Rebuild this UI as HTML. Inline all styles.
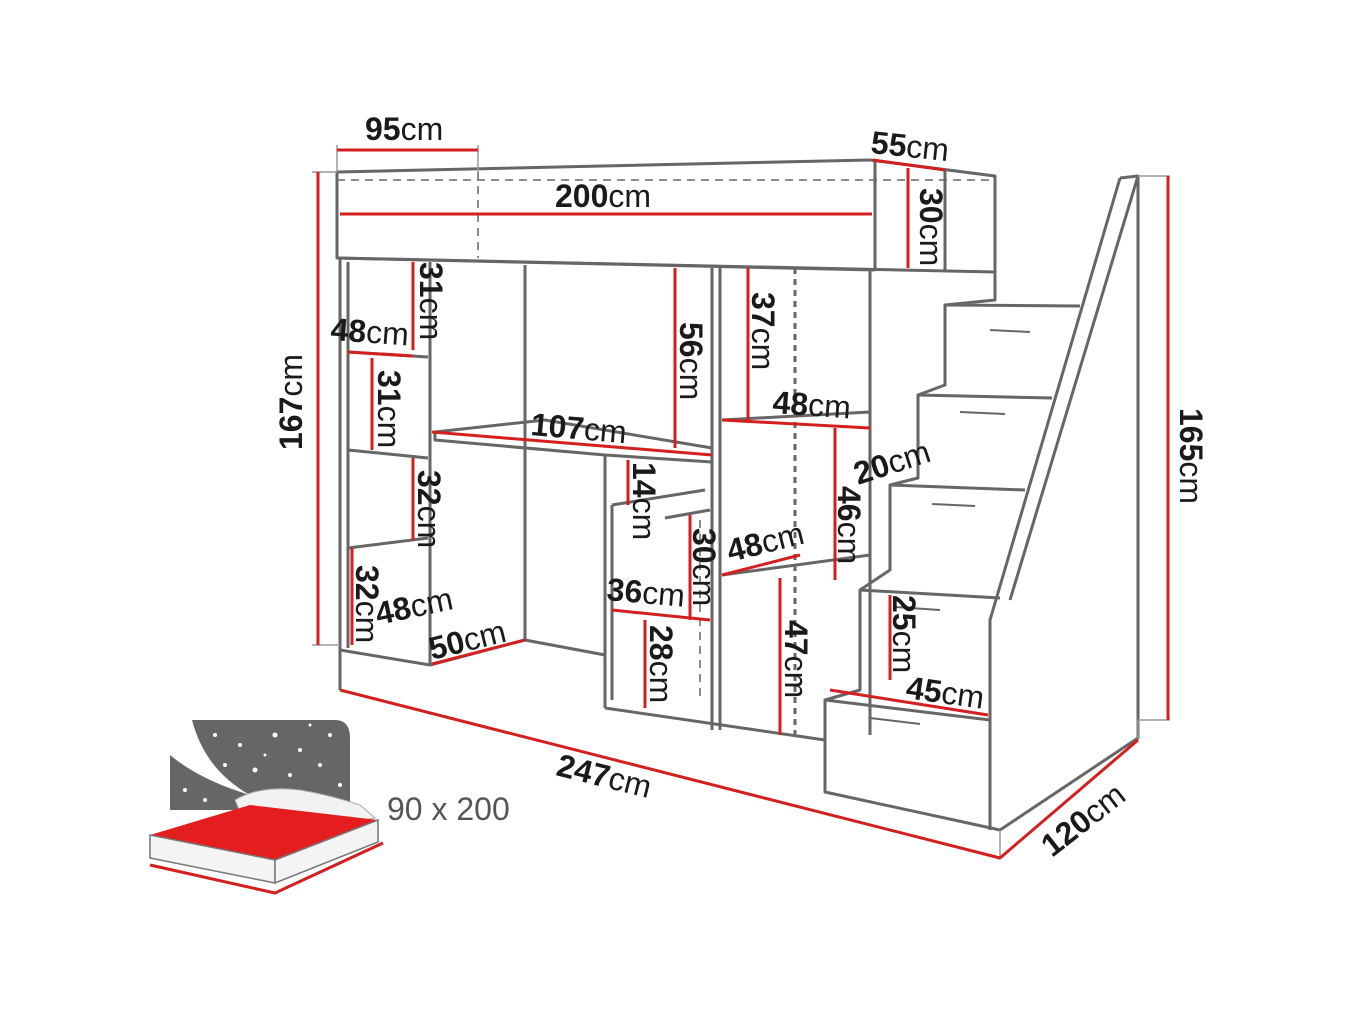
<!DOCTYPE html>
<html><head><meta charset="utf-8"><style>
html,body{margin:0;padding:0;background:#fff;}
svg{display:block;}
text{font-family:"Liberation Sans",sans-serif;font-size:32px;fill:#1a1a1a;}
.b{font-weight:bold;}
</style></head><body>
<svg width="1352" height="1014" viewBox="0 0 1352 1014" xmlns="http://www.w3.org/2000/svg">
<g fill="none" stroke="#666" stroke-width="3" stroke-linejoin="round">
<polygon points="337,172 870,160 995,176 995,272 337,258" fill="#fff"/>
<line x1="337" y1="258" x2="875" y2="270"/>
<line x1="875" y1="160" x2="875" y2="270"/>
<line x1="945" y1="170" x2="945" y2="272"/>
<polyline points="340,258 340,650 430,665 430,262"/>
<line x1="348" y1="262" x2="348" y2="648"/>
<line x1="348" y1="352" x2="428" y2="357"/>
<line x1="348" y1="450" x2="428" y2="458"/>
<line x1="348" y1="548" x2="428" y2="538"/>
<polygon points="435,432 545,420 712,448 712,462 605,455 435,440" fill="#fff"/>
<line x1="525" y1="265" x2="525" y2="640"/>
<polyline points="430,665 525,640 605,655"/>
<line x1="605" y1="455" x2="605" y2="708"/>
<line x1="605" y1="708" x2="825" y2="740"/>
<line x1="675" y1="268" x2="675" y2="448"/>
<line x1="612" y1="505" x2="705" y2="490"/>
<line x1="612" y1="505" x2="612" y2="700"/>
<line x1="665" y1="518" x2="710" y2="510"/>
<line x1="712" y1="268" x2="712" y2="730"/>
<line x1="720" y1="268" x2="720" y2="730"/>
<line x1="722" y1="420" x2="870" y2="412"/>
<line x1="722" y1="575" x2="870" y2="555"/>
<line x1="795" y1="268" x2="795" y2="735" stroke-dasharray="6,5"/>
<line x1="870" y1="270" x2="870" y2="735"/>
<polyline points="1120,178 1138,176 1138,738 1000,830 825,792 825,700 860,690 860,590 890,570 890,485 918,478 918,395 945,385 945,305 995,300 995,272"/>
<polyline points="1120,178 990,620 990,720"/>
<line x1="1138" y1="176" x2="1010" y2="600"/>
<polyline points="945,305 1080,306"/>
<polyline points="918,395 1052,398"/>
<polyline points="890,485 1025,490"/>
<polyline points="860,590 1000,598"/>
<polyline points="825,700 990,720"/>
<line x1="990" y1="720" x2="990" y2="830"/>
<line x1="990" y1="330" x2="1030" y2="332" stroke-width="2"/>
<line x1="960" y1="412" x2="1005" y2="414" stroke-width="2"/>
<line x1="932" y1="504" x2="975" y2="506" stroke-width="2"/>
<line x1="895" y1="607" x2="940" y2="610" stroke-width="2"/>
<line x1="870" y1="718" x2="920" y2="724" stroke-width="2"/>
<line x1="340" y1="650" x2="340" y2="690"/>
</g>
<g fill="none" stroke="#666" stroke-width="1.5" stroke-dasharray="8,6">
<line x1="478" y1="172" x2="478" y2="258"/>
<line x1="337" y1="180" x2="995" y2="180"/>
<line x1="700" y1="520" x2="700" y2="700"/>
</g>
<g stroke="#999" stroke-width="1.5">
<line x1="337" y1="145" x2="337" y2="172"/><line x1="478" y1="145" x2="478" y2="172"/>
<line x1="312" y1="172" x2="337" y2="172"/><line x1="312" y1="645" x2="340" y2="645"/>
<line x1="1138" y1="176" x2="1170" y2="176"/><line x1="1138" y1="720" x2="1170" y2="720"/>
<line x1="1000" y1="830" x2="1000" y2="860"/><line x1="1138" y1="720" x2="1138" y2="740"/>
</g>
<g stroke="#d41f1f" stroke-width="3" fill="none">
<line x1="337" y1="150" x2="478" y2="150"/>
<line x1="340" y1="214" x2="872" y2="214"/>
<line x1="873" y1="160" x2="945" y2="170"/>
<line x1="908" y1="168" x2="908" y2="268"/>
<line x1="318" y1="172" x2="318" y2="645"/>
<line x1="1168" y1="176" x2="1168" y2="720"/>
<line x1="340" y1="690" x2="1000" y2="858"/>
<line x1="1000" y1="858" x2="1138" y2="740"/>
<line x1="413" y1="262" x2="413" y2="350"/>
<line x1="348" y1="352" x2="413" y2="356"/>
<line x1="372" y1="358" x2="372" y2="450"/>
<line x1="413" y1="458" x2="413" y2="540"/>
<line x1="352" y1="548" x2="352" y2="645"/>
<line x1="432" y1="432" x2="712" y2="455"/>
<line x1="432" y1="664" x2="525" y2="640"/>
<line x1="675" y1="268" x2="675" y2="448"/>
<line x1="628" y1="460" x2="628" y2="505"/>
<line x1="690" y1="515" x2="690" y2="620"/>
<line x1="612" y1="610" x2="710" y2="620"/>
<line x1="645" y1="620" x2="645" y2="708"/>
<line x1="748" y1="268" x2="748" y2="420"/>
<line x1="722" y1="420" x2="870" y2="428"/>
<line x1="835" y1="428" x2="835" y2="580"/>
<line x1="722" y1="575" x2="800" y2="555"/>
<line x1="780" y1="578" x2="780" y2="735"/>
<line x1="890" y1="595" x2="890" y2="680"/>
<line x1="830" y1="690" x2="988" y2="715"/>
</g>
<path d="M192,720 L335,720 Q350,720 350,738 L350,810 L170,810 L170,755 Q200,780 250,795 Q205,770 192,720 Z" fill="#666"/>
<g fill="#fff" font-size="10">
<circle cx="215" cy="735" r="2"/><circle cx="240" cy="745" r="2"/><circle cx="275" cy="735" r="2.5"/><circle cx="300" cy="750" r="2"/><circle cx="330" cy="735" r="2"/><circle cx="225" cy="765" r="2"/><circle cx="255" cy="770" r="2.5"/><circle cx="290" cy="775" r="2"/><circle cx="320" cy="765" r="2"/><circle cx="185" cy="790" r="2"/><circle cx="205" cy="800" r="2"/><circle cx="340" cy="785" r="2"/><circle cx="265" cy="755" r="1.5"/><circle cx="310" cy="725" r="1.5"/>
</g>
<path d="M235,800 Q260,785 300,790 Q330,795 360,805 L375,818 Q330,828 240,812 Z" fill="#f2f2f2" stroke="#aaa"/>
<polygon points="150,835 250,805 378,820 275,860" fill="#e41e1e"/>
<polygon points="150,835 275,860 275,883 150,858" fill="#f4f4f4" stroke="#777" stroke-width="1.5"/>
<polygon points="275,860 378,820 378,842 275,883" fill="#f4f4f4" stroke="#777" stroke-width="1.5"/>
<polyline points="150,865 275,893 383,843" fill="none" stroke="#d41f1f" stroke-width="3"/>
<text x="387" y="820" style="fill:#555;font-size:32px">90 x 200</text>
<text x="365" y="140"><tspan class="b">95</tspan>cm</text>
<text x="555" y="207"><tspan class="b">200</tspan>cm</text>
<text x="870" y="153" transform="rotate(6 870 153)"><tspan class="b">55</tspan>cm</text>
<text x="920" y="188" transform="rotate(90 920 188)"><tspan class="b">30</tspan>cm</text>
<text x="302" y="450" transform="rotate(-90 302 450)"><tspan class="b">167</tspan>cm</text>
<text x="1180" y="408" transform="rotate(90 1180 408)"><tspan class="b">165</tspan>cm</text>
<text x="555" y="775" transform="rotate(14 555 775)"><tspan class="b">247</tspan>cm</text>
<text x="1052" y="858" transform="rotate(-38 1052 858)"><tspan class="b">120</tspan>cm</text>
<text x="420" y="262" transform="rotate(90 420 262)"><tspan class="b">31</tspan>cm</text>
<text x="330" y="340" transform="rotate(4 330 340)"><tspan class="b">48</tspan>cm</text>
<text x="378" y="370" transform="rotate(90 378 370)"><tspan class="b">31</tspan>cm</text>
<text x="418" y="470" transform="rotate(90 418 470)"><tspan class="b">32</tspan>cm</text>
<text x="356" y="565" transform="rotate(90 356 565)"><tspan class="b">32</tspan>cm</text>
<text x="378" y="625" transform="rotate(-12 378 625)"><tspan class="b">48</tspan>cm</text>
<text x="432" y="660" transform="rotate(-14 432 660)"><tspan class="b">50</tspan>cm</text>
<text x="530" y="435" transform="rotate(5 530 435)"><tspan class="b">107</tspan>cm</text>
<text x="680" y="322" transform="rotate(90 680 322)"><tspan class="b">56</tspan>cm</text>
<text x="633" y="462" transform="rotate(90 633 462)"><tspan class="b">14</tspan>cm</text>
<text x="693" y="528" transform="rotate(90 693 528)"><tspan class="b">30</tspan>cm</text>
<text x="606" y="600" transform="rotate(5 606 600)"><tspan class="b">36</tspan>cm</text>
<text x="650" y="625" transform="rotate(90 650 625)"><tspan class="b">28</tspan>cm</text>
<text x="752" y="292" transform="rotate(90 752 292)"><tspan class="b">37</tspan>cm</text>
<text x="772" y="413" transform="rotate(4 772 413)"><tspan class="b">48</tspan>cm</text>
<text x="838" y="486" transform="rotate(90 838 486)"><tspan class="b">46</tspan>cm</text>
<text x="858" y="485" transform="rotate(-18 858 485)"><tspan class="b">20</tspan>cm</text>
<text x="730" y="562" transform="rotate(-14 730 562)"><tspan class="b">48</tspan>cm</text>
<text x="785" y="620" transform="rotate(90 785 620)"><tspan class="b">47</tspan>cm</text>
<text x="893" y="595" transform="rotate(90 893 595)"><tspan class="b">25</tspan>cm</text>
<text x="905" y="698" transform="rotate(8 905 698)"><tspan class="b">45</tspan>cm</text>
</svg>
</body></html>
